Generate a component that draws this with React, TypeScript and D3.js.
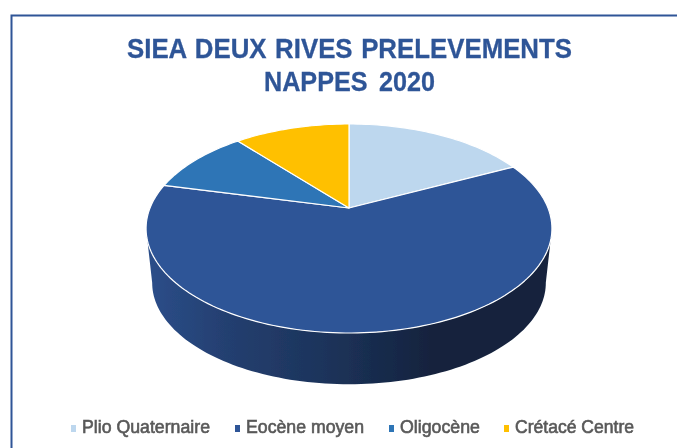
import React from 'react';
import * as d3 from 'd3';

// shares, in %
const categories = ['Plio Quaternaire', 'Eocène moyen', 'Oligocène', 'Crétacé Centre'];
const shares = [17.7, 61.0, 10.1, 11.1];
const colors = ['#BDD7EE', '#2F5597', '#2E75B6', '#FFC000'];
const titleLines = ['SIEA DEUX RIVES PRELEVEMENTS', 'NAPPES 2020'];

const titleX = [127, 264];
const titleWidths = [445, 171];
const legendX = [71, 235, 389, 504];
const legendWidths = [128, 118, 80, 119];

// perspective of the 3D pie: k is how much the far edge shrinks
const k = 0.196;
const cx = 349;
const topFace = { y0: 208, a: 199, b: 100.5 };
const bottomFace = { y0: 263, a: 193, b: 97.5 };

type Face = typeof topFace;

const project = (face: Face, angle: number): [number, number] => {
  const x = Math.sin(angle);
  const y = Math.cos(angle);
  return [cx + (face.a * x) / (1 + k * y), face.y0 - (face.b * y) / (1 + k * y)];
};

const arcPoints = (face: Face, start: number, end: number) => {
  const n = Math.max(2, Math.ceil(Math.abs(end - start) * 40));
  const t = d3.scaleLinear().domain([0, n]).range([start, end]);
  return d3.range(n + 1).map(i => project(face, t(i)));
};

const line = d3.line();

const pie = d3.pie<number>().sort(null);
const slices = pie(shares);

// the wall is only seen between the two widest points of the ellipse
const wallStart = Math.acos(-k);
const wallEnd = 2 * Math.PI - wallStart;
const wallPath =
  line([
    ...arcPoints(topFace, wallStart, wallEnd),
    ...arcPoints(bottomFace, wallEnd, wallStart),
  ])! + 'Z';

const App = () => {
  return (
    <svg
      width={677}
      height={448}
      style={{ position: 'absolute', left: 0, top: 0, background: '#fff' }}
      fontFamily="'Liberation Sans', Arial, sans-serif"
    >
      <defs>
        <linearGradient id="wall" gradientUnits="userSpaceOnUse" x1={146} x2={552} y1={0} y2={0}>
          <stop offset="0" stopColor="#2B4E8A" />
          <stop offset="0.2" stopColor="#243F70" />
          <stop offset="0.45" stopColor="#1C335A" />
          <stop offset="0.7" stopColor="#14233E" />
          <stop offset="1" stopColor="#14233E" />
        </linearGradient>
        <filter id="soft" x="-5%" y="-5%" width="110%" height="110%">
          <feGaussianBlur stdDeviation="0.5" />
        </filter>
      </defs>

      <path d="M11.5 448V15.5H677" fill="none" stroke="#2F5597" strokeWidth={2} />

      <g filter="url(#soft)">
        {titleLines.map((t, i) => (
          <text
            key={t}
            x={titleX[i]}
            y={57.5 + i * 33}
            textLength={titleWidths[i]}
            lengthAdjust="spacingAndGlyphs"
            fontSize={28}
            fontWeight="bold"
            wordSpacing={i === 0 ? 1.5 : 5}
            fill="#2F5597"
            stroke="#2F5597"
            strokeWidth={0.3}
          >
            {t}
          </text>
        ))}

        <path d={wallPath} fill="url(#wall)" />
        {slices.map((s, i) => (
          <path
            key={categories[i]}
            d={line([[cx, topFace.y0], ...arcPoints(topFace, s.startAngle, s.endAngle)])! + 'Z'}
            fill={colors[i]}
            stroke="#fff"
            strokeWidth={1.2}
            strokeLinejoin="round"
          />
        ))}

        {categories.map((c, i) => (
          <g key={c}>
            <rect x={legendX[i]} y={425} width={5} height={7} fill={colors[i]} />
            <text
              x={legendX[i] + 11}
              y={433}
              textLength={legendWidths[i]}
              lengthAdjust="spacingAndGlyphs"
              fontSize={17.5}
              fill="#595959"
              stroke="#595959"
              strokeWidth={0.6}
            >
              {c}
            </text>
          </g>
        ))}
      </g>
    </svg>
  );
};

export default App;
